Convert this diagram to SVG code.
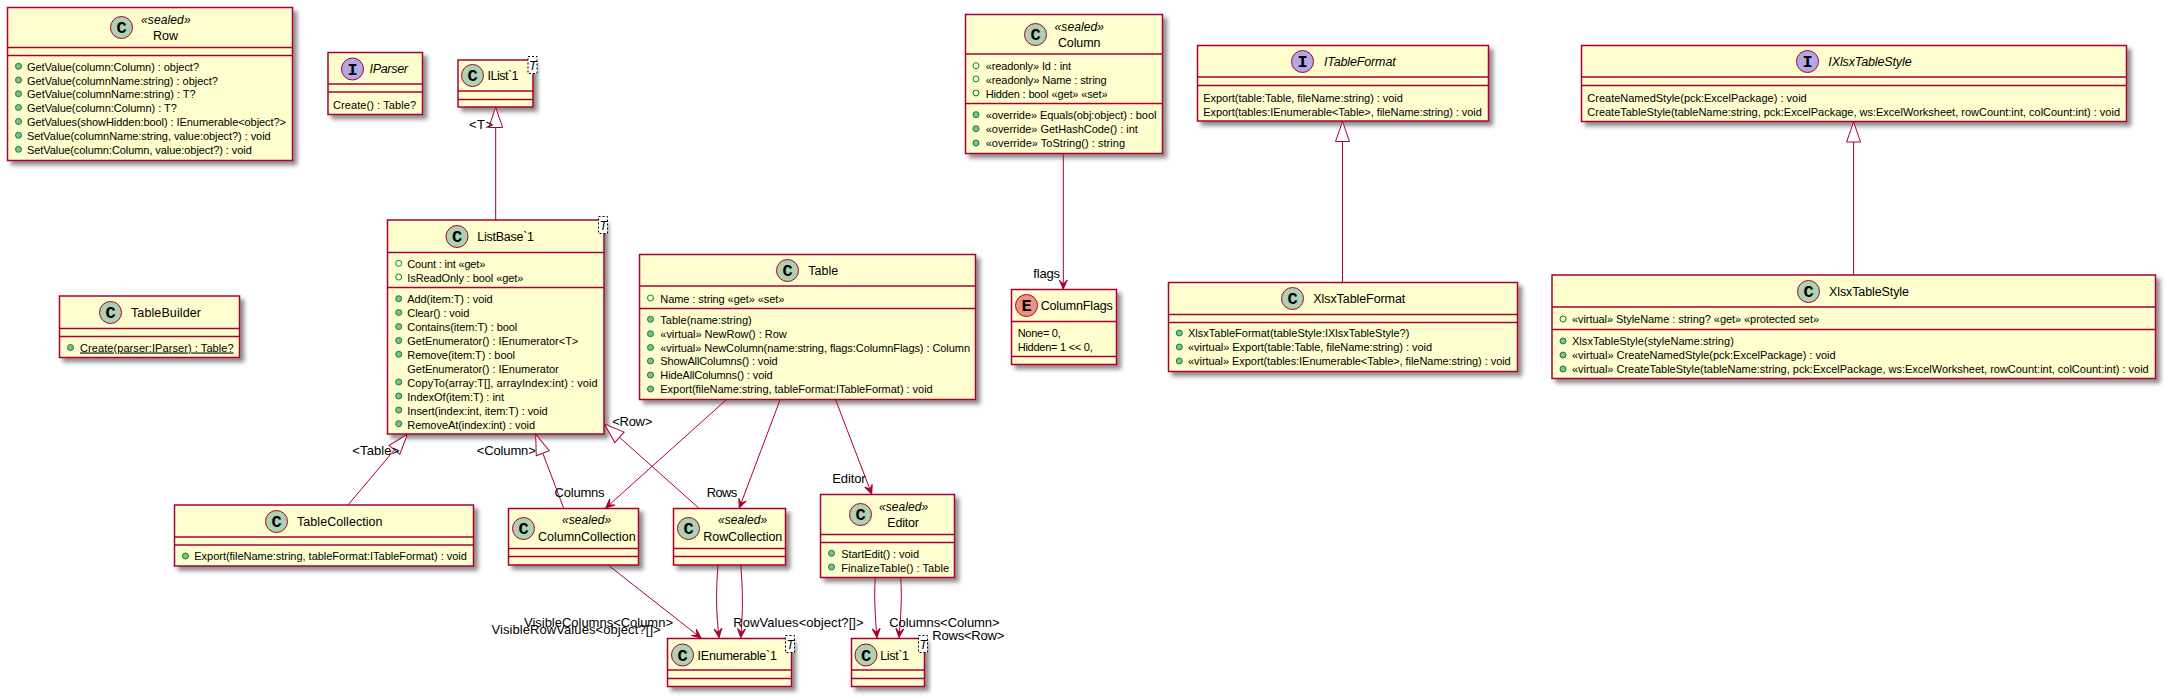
<svg xmlns="http://www.w3.org/2000/svg" width="2168" height="699" viewBox="0 0 2168 699">
<style>
text{font-family:"Liberation Sans",Arial,sans-serif;fill:#000}
.m{font-size:11px}
.t{font-size:12.5px}
.i{font-style:italic}
.s{font-size:12px;font-style:italic}
.l{font-size:13px}
.u{text-decoration:underline}
.b{fill:#FEFECE;stroke:#A80036;stroke-width:1.5;filter:url(#sh)}
.d{stroke:#A80036;stroke-width:1.5}
.c{stroke:#A80036;stroke-width:1;fill:#ADD1B2}
.ci{stroke:#A80036;stroke-width:1;fill:#B4A7E5}
.ce{stroke:#A80036;stroke-width:1;fill:#EB937F}
.g{font-family:"Liberation Mono",monospace;font-weight:bold;font-size:17px;text-anchor:middle}
.mm{fill:#84BE84;stroke:#038048;stroke-width:1}
.f{fill:none;stroke:#038048;stroke-width:1}
.tb{fill:#fff;stroke:#000;stroke-width:1;stroke-dasharray:2,2}
.a{fill:none;stroke:#A80036;stroke-width:1}
.ah{marker-end:url(#open)}
.at{marker-end:url(#tri)}
</style>
<defs>
<filter id="sh" x="-5%" y="-15%" width="115%" height="140%"><feDropShadow dx="4" dy="4" stdDeviation="2" flood-color="#000" flood-opacity="0.45"/></filter>
<marker id="open" markerUnits="userSpaceOnUse" viewBox="-11 -6 12 12" refX="0" refY="0" markerWidth="12" markerHeight="12" orient="auto"><path d="M0,0 L-9,-4 L-5,0 L-9,4 Z" fill="#A80036" stroke="#A80036" stroke-width="1"/></marker>
<marker id="tri" markerUnits="userSpaceOnUse" viewBox="-21 -8 22 16" refX="0" refY="0" markerWidth="22" markerHeight="16" orient="auto"><path d="M0,0 L-20,-7 L-20,7 Z" fill="#fff" stroke="#A80036" stroke-width="1"/></marker>
</defs>

<g id="Row">
<rect class="b" x="7.5" y="7.5" width="285" height="153"/>
<line class="d" x1="7.5" x2="292.5" y1="47.5" y2="47.5"/><line class="d" x1="7.5" x2="292.5" y1="55.5" y2="55.5"/>
<circle class="c" cx="121.5" cy="27.5" r="11"/><text class="g" x="121.5" y="33">C</text>
<text class="s" x="141" y="24" textLength="49.6">«sealed»</text><text class="t" x="153" y="40" textLength="25">Row</text>
<circle class="mm" cx="18.5" cy="66.3" r="3"/><text class="m" x="27" y="71" textLength="172">GetValue(column:Column) : object?</text>
<circle class="mm" cx="18.5" cy="80" r="3"/><text class="m" x="27" y="84.5" textLength="190.9">GetValue(columnName:string) : object?</text>
<circle class="mm" cx="18.5" cy="93.7" r="3"/><text class="m" x="27" y="98" textLength="168.7">GetValue(columnName:string) : T?</text>
<circle class="mm" cx="18.5" cy="107.5" r="3"/><text class="m" x="27" y="112" textLength="149.8">GetValue(column:Column) : T?</text>
<circle class="mm" cx="18.5" cy="121.5" r="3"/><text class="m" x="27" y="126" textLength="259">GetValues(showHidden:bool) : IEnumerable&lt;object?&gt;</text>
<circle class="mm" cx="18.5" cy="135.3" r="3"/><text class="m" x="27" y="140" textLength="243.7">SetValue(columnName:string, value:object?) : void</text>
<circle class="mm" cx="18.5" cy="149.3" r="3"/><text class="m" x="27" y="154" textLength="224.8">SetValue(column:Column, value:object?) : void</text>
</g>

<g id="IParser">
<rect class="b" x="328" y="52.5" width="94.5" height="62"/>
<line class="d" x1="328" x2="422.5" y1="84" y2="84"/><line class="d" x1="328" x2="422.5" y1="92" y2="92"/>
<circle class="ci" cx="352.5" cy="69" r="11"/><text class="g" x="352.5" y="74.5">I</text>
<text class="t i" x="369.5" y="73" textLength="38.5">IParser</text>
<text class="m" x="333" y="108.5" textLength="83">Create() : Table?</text>
</g>

<g id="IList1">
<rect class="b" x="458" y="60" width="75" height="47"/>
<line class="d" x1="458" x2="533" y1="91" y2="91"/><line class="d" x1="458" x2="533" y1="99.5" y2="99.5"/>
<circle class="c" cx="472.5" cy="75.5" r="11"/><text class="g" x="472.5" y="81">C</text>
<text class="t" x="487.5" y="80" textLength="31">IList`1</text>
<rect class="tb" x="528" y="56.5" width="9" height="17"/><text class="t i" x="529" y="70">T</text>
</g>

<g id="ListBase1">
<rect class="b" x="387.5" y="220" width="216.5" height="214"/>
<line class="d" x1="387.5" x2="604" y1="252.5" y2="252.5"/><line class="d" x1="387.5" x2="604" y1="287.5" y2="287.5"/>
<circle class="c" cx="457" cy="236.5" r="11"/><text class="g" x="457" y="242">C</text>
<text class="t" x="477.3" y="241" textLength="56.7">ListBase`1</text>
<rect class="tb" x="598.5" y="216.5" width="9" height="17"/><text class="t i" x="599.5" y="230">T</text>
<circle class="f" cx="398.7" cy="263.3" r="3"/><text class="m" x="407.3" y="267.5" textLength="78">Count : int «get»</text>
<circle class="f" cx="398.7" cy="277" r="3"/><text class="m" x="407.3" y="281.5" textLength="116">IsReadOnly : bool «get»</text>
<circle class="mm" cx="398.7" cy="298.7" r="3"/><text class="m" x="407.3" y="303" textLength="85.4">Add(item:T) : void</text>
<circle class="mm" cx="398.7" cy="312.5" r="3"/><text class="m" x="407.3" y="317" textLength="62">Clear() : void</text>
<circle class="mm" cx="398.7" cy="326.5" r="3"/><text class="m" x="407.3" y="331" textLength="110">Contains(item:T) : bool</text>
<circle class="mm" cx="398.7" cy="340.5" r="3"/><text class="m" x="407.3" y="345" textLength="171">GetEnumerator() : IEnumerator&lt;T&gt;</text>
<circle class="mm" cx="398.7" cy="354.3" r="3"/><text class="m" x="407.3" y="358.5" textLength="107.7">Remove(item:T) : bool</text>
<text class="m" x="407.3" y="372.5" textLength="151.4">GetEnumerator() : IEnumerator</text>
<circle class="mm" cx="398.7" cy="382" r="3"/><text class="m" x="407.3" y="386.5" textLength="190.4">CopyTo(array:T[], arrayIndex:int) : void</text>
<circle class="mm" cx="398.7" cy="396" r="3"/><text class="m" x="407.3" y="400.5" textLength="96.7">IndexOf(item:T) : int</text>
<circle class="mm" cx="398.7" cy="410" r="3"/><text class="m" x="407.3" y="414.5" textLength="140.4">Insert(index:int, item:T) : void</text>
<circle class="mm" cx="398.7" cy="423.7" r="3"/><text class="m" x="407.3" y="428.5" textLength="127.7">RemoveAt(index:int) : void</text>
</g>

<g id="TableBuilder">
<rect class="b" x="59.5" y="296" width="180" height="61.5"/>
<line class="d" x1="59.5" x2="239.5" y1="328.5" y2="328.5"/><line class="d" x1="59.5" x2="239.5" y1="336.5" y2="336.5"/>
<circle class="c" cx="110.5" cy="312.5" r="11"/><text class="g" x="110.5" y="318">C</text>
<text class="t" x="131" y="317" textLength="70">TableBuilder</text>
<circle class="mm" cx="70.5" cy="347.5" r="3"/><text class="m u" x="80" y="351.5" textLength="153.6">Create(parser:IParser) : Table?</text>
</g>

<g id="TableCollection">
<rect class="b" x="174.5" y="505" width="299" height="61"/>
<line class="d" x1="174.5" x2="473.5" y1="537" y2="537"/><line class="d" x1="174.5" x2="473.5" y1="545" y2="545"/>
<circle class="c" cx="276.5" cy="521.5" r="11"/><text class="g" x="276.5" y="527">C</text>
<text class="t" x="297" y="526" textLength="85.5">TableCollection</text>
<circle class="mm" cx="185.5" cy="556" r="3"/><text class="m" x="194.3" y="560" textLength="272.5">Export(fileName:string, tableFormat:ITableFormat) : void</text>
</g>

<g id="Table">
<rect class="b" x="639.5" y="254.5" width="336" height="145"/>
<line class="d" x1="639.5" x2="975.5" y1="286" y2="286"/><line class="d" x1="639.5" x2="975.5" y1="308.5" y2="308.5"/>
<circle class="c" cx="787.5" cy="270.5" r="11"/><text class="g" x="787.5" y="276">C</text>
<text class="t" x="808.3" y="275" textLength="30">Table</text>
<circle class="f" cx="650.5" cy="298" r="3"/><text class="m" x="660.3" y="302.5" textLength="124">Name : string «get» «set»</text>
<circle class="mm" cx="650.5" cy="319.3" r="3"/><text class="m" x="660.3" y="324" textLength="91.4">Table(name:string)</text>
<circle class="mm" cx="650.5" cy="333.7" r="3"/><text class="m" x="660.3" y="338" textLength="126.4">«virtual» NewRow() : Row</text>
<circle class="mm" cx="650.5" cy="347.5" r="3"/><text class="m" x="660.3" y="351.5" textLength="309.7">«virtual» NewColumn(name:string, flags:ColumnFlags) : Column</text>
<circle class="mm" cx="650.5" cy="361" r="3"/><text class="m" x="660.3" y="365" textLength="117.4">ShowAllColumns() : void</text>
<circle class="mm" cx="650.5" cy="375" r="3"/><text class="m" x="660.3" y="379" textLength="112.4">HideAllColumns() : void</text>
<circle class="mm" cx="650.5" cy="389" r="3"/><text class="m" x="660.3" y="393" textLength="272.4">Export(fileName:string, tableFormat:ITableFormat) : void</text>
</g>

<g id="ColumnCollection">
<rect class="b" x="508.5" y="508.5" width="130" height="56.5"/>
<line class="d" x1="508.5" x2="638.5" y1="548.5" y2="548.5"/><line class="d" x1="508.5" x2="638.5" y1="556.5" y2="556.5"/>
<circle class="c" cx="523.5" cy="528.5" r="11"/><text class="g" x="523.5" y="534">C</text>
<text class="s" x="562" y="524" textLength="49.3">«sealed»</text><text class="t" x="538" y="540.5" textLength="97.7">ColumnCollection</text>
</g>

<g id="RowCollection">
<rect class="b" x="673.5" y="508.5" width="112" height="56.5"/>
<line class="d" x1="673.5" x2="785.5" y1="548.5" y2="548.5"/><line class="d" x1="673.5" x2="785.5" y1="556.5" y2="556.5"/>
<circle class="c" cx="688.5" cy="528.5" r="11"/><text class="g" x="688.5" y="534">C</text>
<text class="s" x="718" y="524" textLength="49.3">«sealed»</text><text class="t" x="703.3" y="540.5" textLength="79">RowCollection</text>
</g>

<g id="Editor">
<rect class="b" x="820.5" y="494.5" width="134" height="83"/>
<line class="d" x1="820.5" x2="954.5" y1="534.5" y2="534.5"/><line class="d" x1="820.5" x2="954.5" y1="542.5" y2="542.5"/>
<circle class="c" cx="860.5" cy="514.5" r="11"/><text class="g" x="860.5" y="520">C</text>
<text class="s" x="879" y="511" textLength="49.3">«sealed»</text><text class="t" x="887.3" y="527" textLength="31.7">Editor</text>
<circle class="mm" cx="831.5" cy="553.3" r="3"/><text class="m" x="841.3" y="558" textLength="77.7">StartEdit() : void</text>
<circle class="mm" cx="831.5" cy="567" r="3"/><text class="m" x="841.3" y="571.5" textLength="107.7">FinalizeTable() : Table</text>
</g>

<g id="IEnumerable1">
<rect class="b" x="667.5" y="638.5" width="124" height="48"/>
<line class="d" x1="667.5" x2="791.5" y1="670" y2="670"/><line class="d" x1="667.5" x2="791.5" y1="678.5" y2="678.5"/>
<circle class="c" cx="682.5" cy="655" r="11"/><text class="g" x="682.5" y="660.5">C</text>
<text class="t" x="697.5" y="660" textLength="79.5">IEnumerable`1</text>
<rect class="tb" x="785.5" y="635.5" width="9" height="17"/><text class="t i" x="786.5" y="649">T</text>
</g>

<g id="List1">
<rect class="b" x="851.5" y="638.5" width="73" height="48"/>
<line class="d" x1="851.5" x2="924.5" y1="670" y2="670"/><line class="d" x1="851.5" x2="924.5" y1="678.5" y2="678.5"/>
<circle class="c" cx="866" cy="655" r="11"/><text class="g" x="866" y="660.5">C</text>
<text class="t" x="880.3" y="660" textLength="28.7">List`1</text>
<rect class="tb" x="918.5" y="635.5" width="9" height="17"/><text class="t i" x="919.5" y="649">T</text>
</g>

<g id="Column">
<rect class="b" x="965.5" y="14.5" width="197" height="139"/>
<line class="d" x1="965.5" x2="1162.5" y1="54" y2="54"/><line class="d" x1="965.5" x2="1162.5" y1="103.5" y2="103.5"/>
<circle class="c" cx="1035.5" cy="34.5" r="11"/><text class="g" x="1035.5" y="40">C</text>
<text class="s" x="1054.5" y="30.5" textLength="49.5">«sealed»</text><text class="t" x="1057.9" y="47" textLength="42.5">Column</text>
<circle class="f" cx="976" cy="65.7" r="3"/><text class="m" x="985.7" y="70" textLength="85.4">«readonly» Id : int</text>
<circle class="f" cx="976" cy="79" r="3"/><text class="m" x="985.7" y="83.5" textLength="121">«readonly» Name : string</text>
<circle class="f" cx="976" cy="93" r="3"/><text class="m" x="985.7" y="97.5" textLength="121.8">Hidden : bool «get» «set»</text>
<circle class="mm" cx="976" cy="114.7" r="3"/><text class="m" x="985.7" y="119" textLength="170.7">«override» Equals(obj:object) : bool</text>
<circle class="mm" cx="976" cy="128.7" r="3"/><text class="m" x="985.7" y="133" textLength="152.2">«override» GetHashCode() : int</text>
<circle class="mm" cx="976" cy="143" r="3"/><text class="m" x="985.7" y="147" textLength="139.3">«override» ToString() : string</text>
</g>

<g id="ColumnFlags">
<rect class="b" x="1011.5" y="289.5" width="105" height="75"/>
<line class="d" x1="1011.5" x2="1116.5" y1="321.5" y2="321.5"/><line class="d" x1="1011.5" x2="1116.5" y1="356.5" y2="356.5"/>
<circle class="ce" cx="1026.5" cy="305.5" r="11"/><text class="g" x="1026.5" y="311">E</text>
<text class="t" x="1040.7" y="310" textLength="72">ColumnFlags</text>
<text class="m" x="1017.7" y="337" textLength="43">None= 0,</text>
<text class="m" x="1017.7" y="351" textLength="75">Hidden= 1 &lt;&lt; 0,</text>
</g>

<g id="ITableFormat">
<rect class="b" x="1197.5" y="45.5" width="291" height="75.5"/>
<line class="d" x1="1197.5" x2="1488.5" y1="77" y2="77"/><line class="d" x1="1197.5" x2="1488.5" y1="85.5" y2="85.5"/>
<circle class="ci" cx="1302.5" cy="61.5" r="11"/><text class="g" x="1302.5" y="67">I</text>
<text class="t i" x="1324" y="66" textLength="71.7">ITableFormat</text>
<text class="m" x="1203.2" y="101.5" textLength="199.7">Export(table:Table, fileName:string) : void</text>
<text class="m" x="1203.2" y="115.5" textLength="278.6">Export(tables:IEnumerable&lt;Table&gt;, fileName:string) : void</text>
</g>

<g id="XlsxTableFormat">
<rect class="b" x="1168.5" y="282.5" width="349" height="89"/>
<line class="d" x1="1168.5" x2="1517.5" y1="314.5" y2="314.5"/><line class="d" x1="1168.5" x2="1517.5" y1="322.5" y2="322.5"/>
<circle class="c" cx="1292.5" cy="298.5" r="11"/><text class="g" x="1292.5" y="304">C</text>
<text class="t" x="1313.3" y="303" textLength="92">XlsxTableFormat</text>
<circle class="mm" cx="1179.3" cy="333" r="3"/><text class="m" x="1188" y="337" textLength="221.3">XlsxTableFormat(tableStyle:IXlsxTableStyle?)</text>
<circle class="mm" cx="1179.3" cy="347" r="3"/><text class="m" x="1188" y="351" textLength="244">«virtual» Export(table:Table, fileName:string) : void</text>
<circle class="mm" cx="1179.3" cy="361" r="3"/><text class="m" x="1188" y="365" textLength="322.7">«virtual» Export(tables:IEnumerable&lt;Table&gt;, fileName:string) : void</text>
</g>

<g id="IXlsxTableStyle">
<rect class="b" x="1581.5" y="45.5" width="545" height="76"/>
<line class="d" x1="1581.5" x2="2126.5" y1="77" y2="77"/><line class="d" x1="1581.5" x2="2126.5" y1="85.5" y2="85.5"/>
<circle class="ci" cx="1807.5" cy="61.5" r="11"/><text class="g" x="1807.5" y="67">I</text>
<text class="t i" x="1828.3" y="66" textLength="83.3">IXlsxTableStyle</text>
<text class="m" x="1587.3" y="101.5" textLength="219.4">CreateNamedStyle(pck:ExcelPackage) : void</text>
<text class="m" x="1587.3" y="115.5" textLength="532.7">CreateTableStyle(tableName:string, pck:ExcelPackage, ws:ExcelWorksheet, rowCount:int, colCount:int) : void</text>
</g>

<g id="XlsxTableStyle">
<rect class="b" x="1552" y="275" width="603.5" height="103.5"/>
<line class="d" x1="1552" x2="2155.5" y1="307" y2="307"/><line class="d" x1="1552" x2="2155.5" y1="329.5" y2="329.5"/>
<circle class="c" cx="1808.5" cy="291.5" r="11"/><text class="g" x="1808.5" y="297">C</text>
<text class="t" x="1829" y="296" textLength="80">XlsxTableStyle</text>
<circle class="f" cx="1563" cy="319" r="3"/><text class="m" x="1572" y="323" textLength="247">«virtual» StyleName : string? «get» «protected set»</text>
<circle class="mm" cx="1563" cy="341" r="3"/><text class="m" x="1572" y="345" textLength="161.8">XlsxTableStyle(styleName:string)</text>
<circle class="mm" cx="1563" cy="355" r="3"/><text class="m" x="1572" y="359" textLength="263.6">«virtual» CreateNamedStyle(pck:ExcelPackage) : void</text>
<circle class="mm" cx="1563" cy="369" r="3"/><text class="m" x="1572" y="373" textLength="576.7">«virtual» CreateTableStyle(tableName:string, pck:ExcelPackage, ws:ExcelWorksheet, rowCount:int, colCount:int) : void</text>
</g>

<g id="connectors">
<path class="a at" d="M495.7,220 L495.7,107.5"/>
<path class="a at" d="M348,505 L407.3,434.5"/>
<path class="a at" d="M563.6,508 L535.7,434.5"/>
<path class="a at" d="M698.7,508 L604.5,424"/>
<path class="a at" d="M1342.5,282 L1342.5,121.5"/>
<path class="a at" d="M1853.6,275 L1853.6,122"/>
<path class="a ah" d="M726,400 L605.7,508"/>
<path class="a ah" d="M780,400 L739.3,508"/>
<path class="a ah" d="M835.7,400 L871.7,494"/>
<path class="a ah" d="M1063.3,154 L1063.3,289"/>
<path class="a ah" d="M608,565 L701,638"/>
<path class="a ah" d="M718,565 C716,590 716,612 719,637.5"/>
<path class="a ah" d="M740.7,565 C743,590 743,612 740.7,637.5"/>
<path class="a ah" d="M875.3,577.5 C874,595 875,615 877,637.5"/>
<path class="a ah" d="M900.7,577.5 C902,595 901,615 899,637.5"/>
<text class="l" x="469" y="129" textLength="24">&lt;T&gt;</text>
<text class="l" x="352.3" y="455" textLength="47">&lt;Table&gt;</text>
<text class="l" x="476.8" y="455" textLength="59">&lt;Column&gt;</text>
<text class="l" x="612.3" y="426" textLength="40">&lt;Row&gt;</text>
<text class="l" x="554.6" y="496.5" textLength="50">Columns</text>
<text class="l" x="706.7" y="496.5" textLength="30.6">Rows</text>
<text class="l" x="832.3" y="483" textLength="33.3">Editor</text>
<text class="l" x="1033.3" y="278" textLength="26.7">flags</text>
<text class="l" x="524" y="626.5" textLength="149">VisibleColumns&lt;Column&gt;</text>
<text class="l" x="491.4" y="634" textLength="169.3">VisibleRowValues&lt;object?[]&gt;</text>
<text class="l" x="733.3" y="626.5" textLength="130.3">RowValues&lt;object?[]&gt;</text>
<text class="l" x="889.3" y="626.5" textLength="110.3">Columns&lt;Column&gt;</text>
<text class="l" x="932.3" y="639.5" textLength="72">Rows&lt;Row&gt;</text>
</g>
</svg>
